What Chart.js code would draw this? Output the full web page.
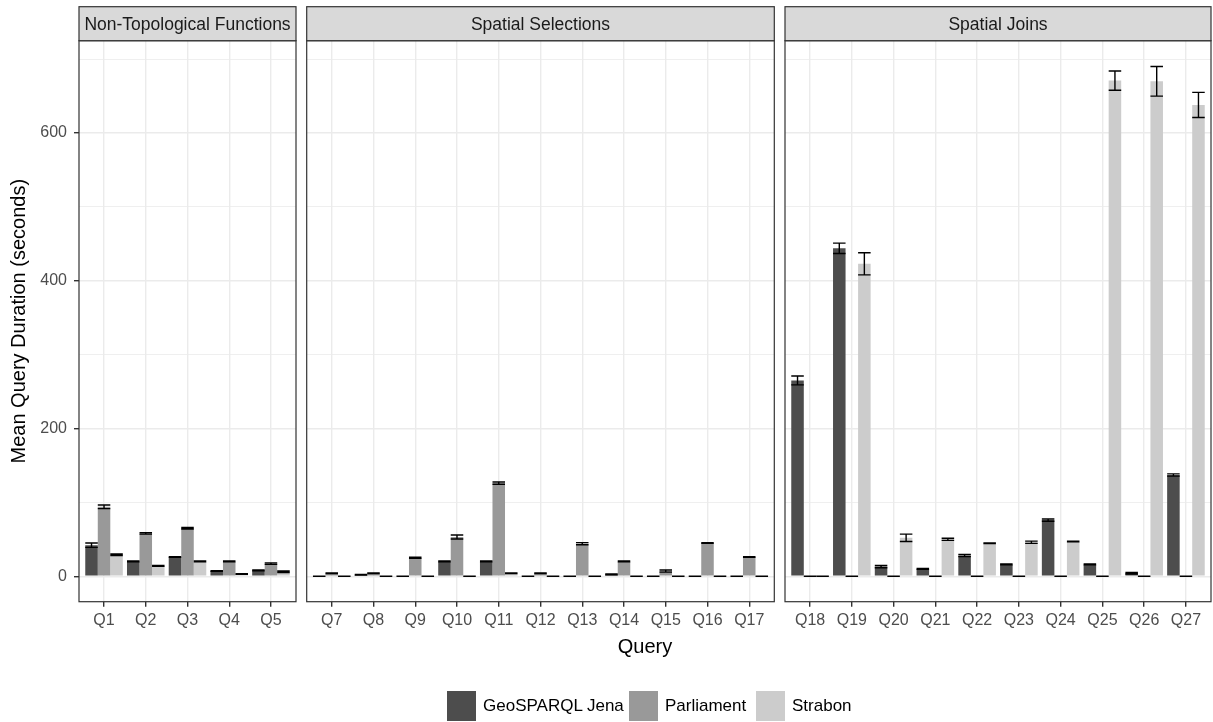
<!DOCTYPE html>
<html>
<head>
<meta charset="utf-8">
<script src="https://cdn.jsdelivr.net/npm/chart.js@4.4.1/dist/chart.umd.min.js"></script>
<style>
  body { margin: 0; background: #fff; font-family: 'Liberation Sans', Arial, sans-serif; }
  #wrap { position: relative; width: 1213px; height: 722px; }
  #wrap canvas { position: absolute; left: 0; top: 0; }
  #legend { position: absolute; left: 447px; top: 691px; display: flex; align-items: center; }
  .key { width: 29px; height: 30px; }
  .lab { font-size: 17px; color: #000; margin: 0 6px 0 7px; }
</style>
</head>
<body>
<div id="wrap">
  <canvas id="c1" width="1213" height="722"></canvas>
  <canvas id="c2" width="1213" height="722"></canvas>
  <canvas id="c3" width="1213" height="722"></canvas>
  <div id="legend"></div>
</div>
<script>
'use strict';

// series
var seriesNames = ['GeoSPARQL Jena', 'Parliament', 'Strabon'];
var seriesColors = ['#4D4D4D', '#999999', '#CCCCCC'];

// y axis
var yTickValues = [0, 100, 200, 300, 400, 500, 600, 700];

// Non-Topological Functions
var cats1 = ['Q1', 'Q2', 'Q3', 'Q4', 'Q5'];
var jena1 = [42, 20, 26, 7, 8];
var parl1 = [94, 58, 65, 20, 17];
var strab1 = [29, 14, 20, 3, 6];
var jenaErr1 = [3, 0.5, 0.5, 0.5, 0.5];
var parlErr1 = [2.5, 1, 1, 0.5, 1];
var strabErr1 = [1, 0.5, 0.5, 0.5, 1];

// Spatial Selections
var cats2 = ['Q7', 'Q8', 'Q9', 'Q10', 'Q11', 'Q12', 'Q13', 'Q14', 'Q15', 'Q16', 'Q17'];
var jena2 = [0, 2, 0, 20, 20, 0, 0, 2.5, 0, 0, 0];
var parl2 = [4, 4, 25, 53, 126, 4, 44, 20, 7, 45, 26];
var strab2 = [0, 0, 0, 0, 4, 0, 0, 0, 0, 0, 0];
var jenaErr2 = [0, 0.5, 0, 0.5, 0.5, 0, 0, 0.5, 0, 0, 0];
var parlErr2 = [0.5, 0.5, 0.7, 2.7, 1.5, 0.5, 1.5, 0.5, 1.5, 0.5, 0.5];
var strabErr2 = [0, 0, 0, 0, 0.5, 0, 0, 0, 0, 0, 0];

// Spatial Joins
var cats3 = ['Q18', 'Q19', 'Q20', 'Q21', 'Q22', 'Q23', 'Q24', 'Q25', 'Q26', 'Q27'];
var jena3 = [265, 444, 13, 10, 28, 16, 76, 16, 4, 137];
var parl3 = [0, 0, 0, 0, 0, 0, 0, 0, 0, 0];
var strab3 = [0, 423, 52, 50, 44.6, 46, 47, 671, 670, 638];
var jenaErr3 = [6, 7, 1.5, 0.5, 1.5, 0.5, 1.5, 0.5, 1, 1.5];
var parlErr3 = [0, 0, 0, 0, 0, 0, 0, 0, 0, 0];
var strabErr3 = [0, 15, 5, 1.5, 0.5, 1.5, 0.5, 13, 20, 17];

// legend item offsets (px from legend left)
var legendKeyX = [0, 182, 309];

var W = 1213, H = 722;
var PLOT_TOP = 40.7, PLOT_BOTTOM = 601.7, STRIP_TOP = 6.7;

Chart.defaults.font.family = "'Liberation Sans', Arial, sans-serif";

var facetPlugin = {
  id: 'facet',
  afterDatasetsDraw: function (chart) {
    var ctx = chart.ctx, y = chart.scales.y;
    ctx.save();
    ctx.strokeStyle = '#000';
    ctx.lineWidth = 1.4;
    chart.data.datasets.forEach(function (ds, i) {
      chart.getDatasetMeta(i).data.forEach(function (bar, j) {
        var v = ds.data[j].y, e = ds.errs[j];
        var hi = y.getPixelForValue(v + e), lo = y.getPixelForValue(v - e);
        var hw = bar.width / 2;
        ctx.beginPath();
        ctx.moveTo(bar.x, hi); ctx.lineTo(bar.x, lo);
        ctx.moveTo(bar.x - hw, hi); ctx.lineTo(bar.x + hw, hi);
        ctx.moveTo(bar.x - hw, lo); ctx.lineTo(bar.x + hw, lo);
        ctx.stroke();
      });
    });
    ctx.restore();
  },
  afterDraw: function (chart, args, opts) {
    var ctx = chart.ctx, a = chart.chartArea;
    ctx.save();
    // panel border
    ctx.strokeStyle = '#333333';
    ctx.lineWidth = 1.2;
    ctx.strokeRect(a.left, a.top, a.right - a.left, a.bottom - a.top);
    // strip
    ctx.fillStyle = '#D9D9D9';
    ctx.fillRect(a.left, STRIP_TOP, a.right - a.left, a.top - STRIP_TOP);
    ctx.strokeRect(a.left, STRIP_TOP, a.right - a.left, a.top - STRIP_TOP);
    ctx.fillStyle = '#1A1A1A';
    ctx.font = "17.5px 'Liberation Sans', Arial, sans-serif";
    ctx.textAlign = 'center';
    ctx.textBaseline = 'middle';
    ctx.fillText(opts.strip, (a.left + a.right) / 2, (STRIP_TOP + a.top) / 2 + 1.5);
    if (opts.titles) {
      ctx.fillStyle = '#000';
      ctx.font = "20px 'Liberation Sans', Arial, sans-serif";
      ctx.fillText('Query', 645, 647);
      ctx.translate(19, (PLOT_TOP + PLOT_BOTTOM) / 2);
      ctx.rotate(-Math.PI / 2);
      ctx.fillText('Mean Query Duration (seconds)', 0, 0);
    }
    ctx.restore();
  }
};

function makePanel(id, strip, cats, values, errs, left, right, first) {
  var datasets = values.map(function (vals, s) {
    return {
      label: seriesNames[s],
      data: vals.map(function (v, i) { return { x: i, y: v }; }),
      errs: errs[s],
      backgroundColor: seriesColors[s],
      borderWidth: 0,
      barPercentage: 1,
      categoryPercentage: 0.9
    };
  });
  return new Chart(document.getElementById(id), {
    type: 'bar',
    data: { datasets: datasets },
    plugins: [facetPlugin],
    options: {
      responsive: false,
      animation: false,
      events: [],
      layout: {
        padding: { left: first ? 0 : left, right: W - right, top: PLOT_TOP, bottom: H - PLOT_BOTTOM - 30 }
      },
      plugins: {
        legend: { display: false },
        tooltip: { enabled: false },
        facet: { strip: strip, titles: first }
      },
      scales: {
        x: {
          type: 'linear',
          offset: false,
          min: -0.6,
          max: cats.length - 0.4,
          afterBuildTicks: function (s) {
            s.ticks = cats.map(function (c, i) { return { value: i }; });
          },
          afterFit: function (s) { s.height = 30; },
          border: { display: false },
          grid: {
            offset: false,
            color: '#EBEBEB',
            lineWidth: 1.4,
            tickColor: '#333333',
            tickLength: 5
          },
          ticks: {
            color: '#4D4D4D',
            font: { size: 16 },
            padding: 4,
            maxRotation: 0,
            autoSkip: false,
            callback: function (v) { return cats[v]; }
          }
        },
        y: {
          min: -34.5,
          max: 725,
          afterBuildTicks: function (s) {
            s.ticks = yTickValues.map(function (v) { return { value: v }; });
          },
          afterFit: function (s) { s.width = first ? left : 0; },
          border: { display: false },
          grid: {
            color: '#EBEBEB',
            lineWidth: function (c) { return c.tick && c.tick.value % 200 === 0 ? 1.4 : 0.8; },
            tickColor: function (c) { return c.tick && c.tick.value % 200 === 0 ? '#333333' : 'rgba(0,0,0,0)'; },
            drawTicks: first,
            tickLength: 5
          },
          ticks: {
            display: first,
            color: '#4D4D4D',
            font: { size: 16 },
            padding: 7,
            callback: function (v) { return v % 200 === 0 ? v : ''; }
          }
        }
      }
    }
  });
}

makePanel('c1', 'Non-Topological Functions', cats1, [jena1, parl1, strab1], [jenaErr1, parlErr1, strabErr1], 79, 296, true);
makePanel('c2', 'Spatial Selections', cats2, [jena2, parl2, strab2], [jenaErr2, parlErr2, strabErr2], 306.7, 774.3, false);
makePanel('c3', 'Spatial Joins', cats3, [jena3, parl3, strab3], [jenaErr3, parlErr3, strabErr3], 785, 1211, false);

// legend
var legend = document.getElementById('legend');
seriesNames.forEach(function (name, i) {
  var item = document.createElement('div');
  item.style.position = 'absolute';
  item.style.left = legendKeyX[i] + 'px';
  item.style.top = '0px';
  item.style.display = 'flex';
  item.style.alignItems = 'center';
  item.style.whiteSpace = 'nowrap';
  var k = document.createElement('div');
  k.className = 'key';
  k.style.background = seriesColors[i];
  var t = document.createElement('span');
  t.className = 'lab';
  t.textContent = name;
  item.appendChild(k);
  item.appendChild(t);
  legend.appendChild(item);
});
</script>
</body>
</html>
